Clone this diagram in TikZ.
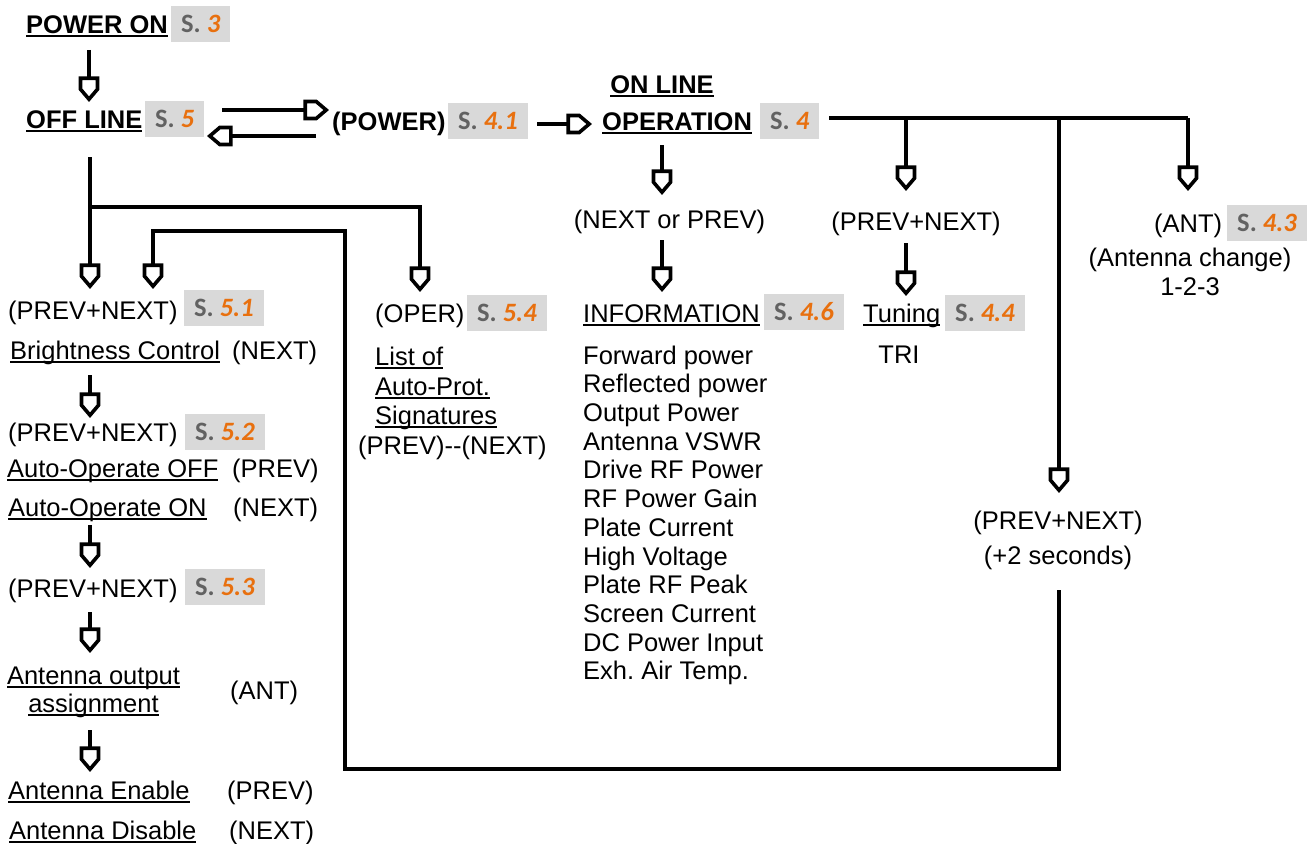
\documentclass[tikz,border=0pt]{standalone}
\usepackage{fontspec}
\setmainfont{Liberation Sans}
\newfontfamily\badgefont{Carlito}
\usetikzlibrary{arrows.meta}
\definecolor{sorange}{HTML}{E8700F}
\definecolor{sgray}{HTML}{626262}
\definecolor{bgray}{HTML}{D9D9D9}
\newcommand{\myul}[1]{\leavevmode\setbox0=\hbox{#1}\rlap{\raisebox{-4pt}{\rule{\wd0}{2pt}}}\box0}
\newcommand{\sref}[1]{\textcolor{sgray}{S.} \textcolor{sorange}{\itshape #1}}
\frenchspacing
\pgfdeclarearrow{
  name = Pent,
  setup code = {
    \pgfarrowssettipend{2.8pt}
    \pgfarrowssetlineend{-20pt}
    \pgfarrowssetvisualbackend{-21pt}
    \pgfarrowssetbackend{-22pt}
    \pgfarrowsupperhullpoint{-22pt}{10pt}
    \pgfarrowsupperhullpoint{2.8pt}{0pt}
  },
  drawing code = {
    \pgfsetdash{}{0pt}
    \pgfsetmiterjoin
    \pgfpathmoveto{\pgfqpoint{0pt}{0pt}}
    \pgfpathlineto{\pgfqpoint{-10pt}{8.5pt}}
    \pgfpathlineto{\pgfqpoint{-21pt}{8.5pt}}
    \pgfpathlineto{\pgfqpoint{-21pt}{-8.5pt}}
    \pgfpathlineto{\pgfqpoint{-10pt}{-8.5pt}}
    \pgfpathclose
    \pgfusepathqstroke
  }
}
\begin{document}
\frenchspacing
\begin{tikzpicture}[x=1pt,y=-1pt,
  txt/.style={inner sep=0pt, anchor=west, text height=18.3pt, text depth=0pt, font=\fontsize{25.5}{29}\selectfont\frenchspacing},
  ctxt/.style={txt, anchor=center},
  btxt/.style={txt, font=\fontsize{25.5}{29}\selectfont\bfseries},
  badge/.style={fill=bgray, anchor=west, inner xsep=10pt, inner ysep=0pt, text height=17pt, text depth=0pt, minimum height=36pt, font=\badgefont\fontsize{26.5}{26.5}\selectfont\bfseries},
  ln/.style={line width=3.6pt},
  pa/.style={ln, -{Pent}}]
\useasboundingbox (0,0) rectangle (1313,843);

% ---------- top row ----------
\node[btxt] (pon) at (26,24) {\myul{POWER ON}};
\node[badge] (b3) at (171,24) {\sref{3}};
\node[btxt] (offl) at (26,119) {\myul{OFF LINE}};
\node[badge] (b5) at (145,119) {\sref{5}};
\node[btxt] (power) at (332,121) {(POWER)};
\node[badge] (b41) at (448,121) {\sref{4.1}};
\node[btxt, anchor=center] (online) at (662,84) {\myul{ON LINE}};
\node[btxt] (oper) at (602,121) {\myul{OPERATION}};
\node[badge] (b4) at (760,121) {\sref{4}};

% ---------- left column ----------
\node[txt] (pn1) at (8,310) {(PREV+NEXT)};
\node[badge] (b51) at (184,308) {\sref{5.1}};
\node[txt] (bc) at (10,350) {\myul{Brightness Control}};
\node[txt] (bcn) at (232,350) {(NEXT)};
\node[txt] (pn2) at (8,432) {(PREV+NEXT)};
\node[badge] (b52) at (185,432) {\sref{5.2}};
\node[txt] (aoff) at (7,468) {\myul{Auto-Operate OFF}};
\node[txt] (aoffp) at (232,468) {(PREV)};
\node[txt] (aon) at (8,507) {\myul{Auto-Operate ON}};
\node[txt] (aonn) at (233,507) {(NEXT)};
\node[txt] (pn3) at (8,588) {(PREV+NEXT)};
\node[badge] (b53) at (185,587) {\sref{5.3}};
\node[ctxt] (aoa1) at (93.5,675) {\myul{Antenna output}};
\node[ctxt] (aoa2) at (93.5,703) {\myul{assignment}};
\node[txt] (aoant) at (230,690) {(ANT)};
\node[txt] (aen) at (8,790) {\myul{Antenna Enable}};
\node[txt] (aenp) at (227,790) {(PREV)};
\node[txt] (adis) at (9,830) {\myul{Antenna Disable}};
\node[txt] (adisn) at (229,830) {(NEXT)};

% ---------- OPER column ----------
\node[txt] (opr) at (375,313) {(OPER)};
\node[badge] (b54) at (467,313) {\sref{5.4}};
\node[txt] (lst1) at (375,356) {\myul{List of}};
\node[txt] (lst2) at (375,386) {\myul{Auto-Prot.}};
\node[txt] (lst3) at (375,415) {\myul{Signatures}};
\node[txt] (lstpn) at (358,445) {(PREV)\hbox{-}\hbox{-}(NEXT)};

% ---------- information column ----------
\node[ctxt] (nop) at (669.5,219) {(NEXT or PREV)};
\node[txt] (info) at (583,313) {\myul{INFORMATION}};
\node[badge] (b46) at (764,312) {\sref{4.6}};
\foreach \t [count=\i] in {Forward power, Reflected power, Output Power, Antenna VSWR,
  Drive RF Power, RF Power Gain, Plate Current, High Voltage, Plate RF Peak,
  Screen Current, DC Power Input, Exh.\ Air Temp.}
  \node[txt] (inf\i) at (583,{355+28.7*(\i-1)}) {\t};

% ---------- tuning column ----------
\node[ctxt] (pn4) at (916,221) {(PREV+NEXT)};
\node[txt] (tun) at (863,313) {\myul{Tuning}};
\node[badge] (b44) at (945,313) {\sref{4.4}};
\node[ctxt] (tri) at (899,354) {TRI};

% ---------- antenna column ----------
\node[txt] (ant) at (1154,223) {(ANT)};
\node[badge] (b43) at (1227,223) {\sref{4.3}};
\node[ctxt] (antc) at (1190,257) {(Antenna change)};
\node[ctxt] (a123) at (1190,286) {1-2-3};

% ---------- +2 seconds ----------
\node[ctxt] (pn5) at (1058,520) {(PREV+NEXT)};
\node[ctxt] (sec) at (1058,555) {(+2 seconds)};

% ---------- coordinates ----------
\coordinate (c1a) at (89,50);   \coordinate (c1b) at (89,102);
\coordinate (c2a) at (222,110); \coordinate (c2b) at (329,110);
\coordinate (c3a) at (316,136); \coordinate (c3b) at (207,136);
\coordinate (c4a) at (537,124); \coordinate (c4b) at (592,124);
\coordinate (r0) at (829,118);  \coordinate (r1) at (906,118);
\coordinate (r2) at (1059,118); \coordinate (r3) at (1188,118);
\coordinate (r1b) at (906,191); \coordinate (r2b) at (1059,493);
\coordinate (r3b) at (1188,191);
\coordinate (t1a) at (906,243); \coordinate (t1b) at (906,296);
\coordinate (m1a) at (662,145); \coordinate (m1b) at (662,195);
\coordinate (m2a) at (662,240); \coordinate (m2b) at (662,292);
\coordinate (o0) at (90,157);   \coordinate (o1) at (90,289);
\coordinate (o2) at (90,207);   \coordinate (o3) at (420,292);
\coordinate (l0) at (1059,590); \coordinate (l1) at (1059,769);
\coordinate (l2) at (345,769);  \coordinate (l3) at (345,231);
\coordinate (l4) at (153,231);  \coordinate (l5) at (153,289);
\coordinate (d1a) at (90,375);  \coordinate (d1b) at (90,418);
\coordinate (d2a) at (90,525);  \coordinate (d2b) at (90,568);
\coordinate (d3a) at (90,612);  \coordinate (d3b) at (90,653);
\coordinate (d4a) at (90,730);  \coordinate (d4b) at (90,772);

% ---------- connectors ----------
\draw[pa] (c1a) -- (c1b);
\draw[pa] (c2a) -- (c2b);
\draw[pa] (c3a) -- (c3b);
\draw[pa] (c4a) -- (c4b);
\draw[ln] (r0) -- (r3);
\draw[pa] (r1) -- (r1b);
\draw[pa] (r2) -- (r2b);
\draw[pa] (r3) -- (r3b);
\draw[pa] (t1a) -- (t1b);
\draw[pa] (m1a) -- (m1b);
\draw[pa] (m2a) -- (m2b);
\draw[pa] (o0) -- (o1);
\draw[pa] (o2) -| (o3);
\draw[pa] (l0) -- (l1) -- (l2) -- (l3) -- (l4) -- (l5);
\draw[pa] (d1a) -- (d1b);
\draw[pa] (d2a) -- (d2b);
\draw[pa] (d3a) -- (d3b);
\draw[pa] (d4a) -- (d4b);
\end{tikzpicture}
\end{document}
